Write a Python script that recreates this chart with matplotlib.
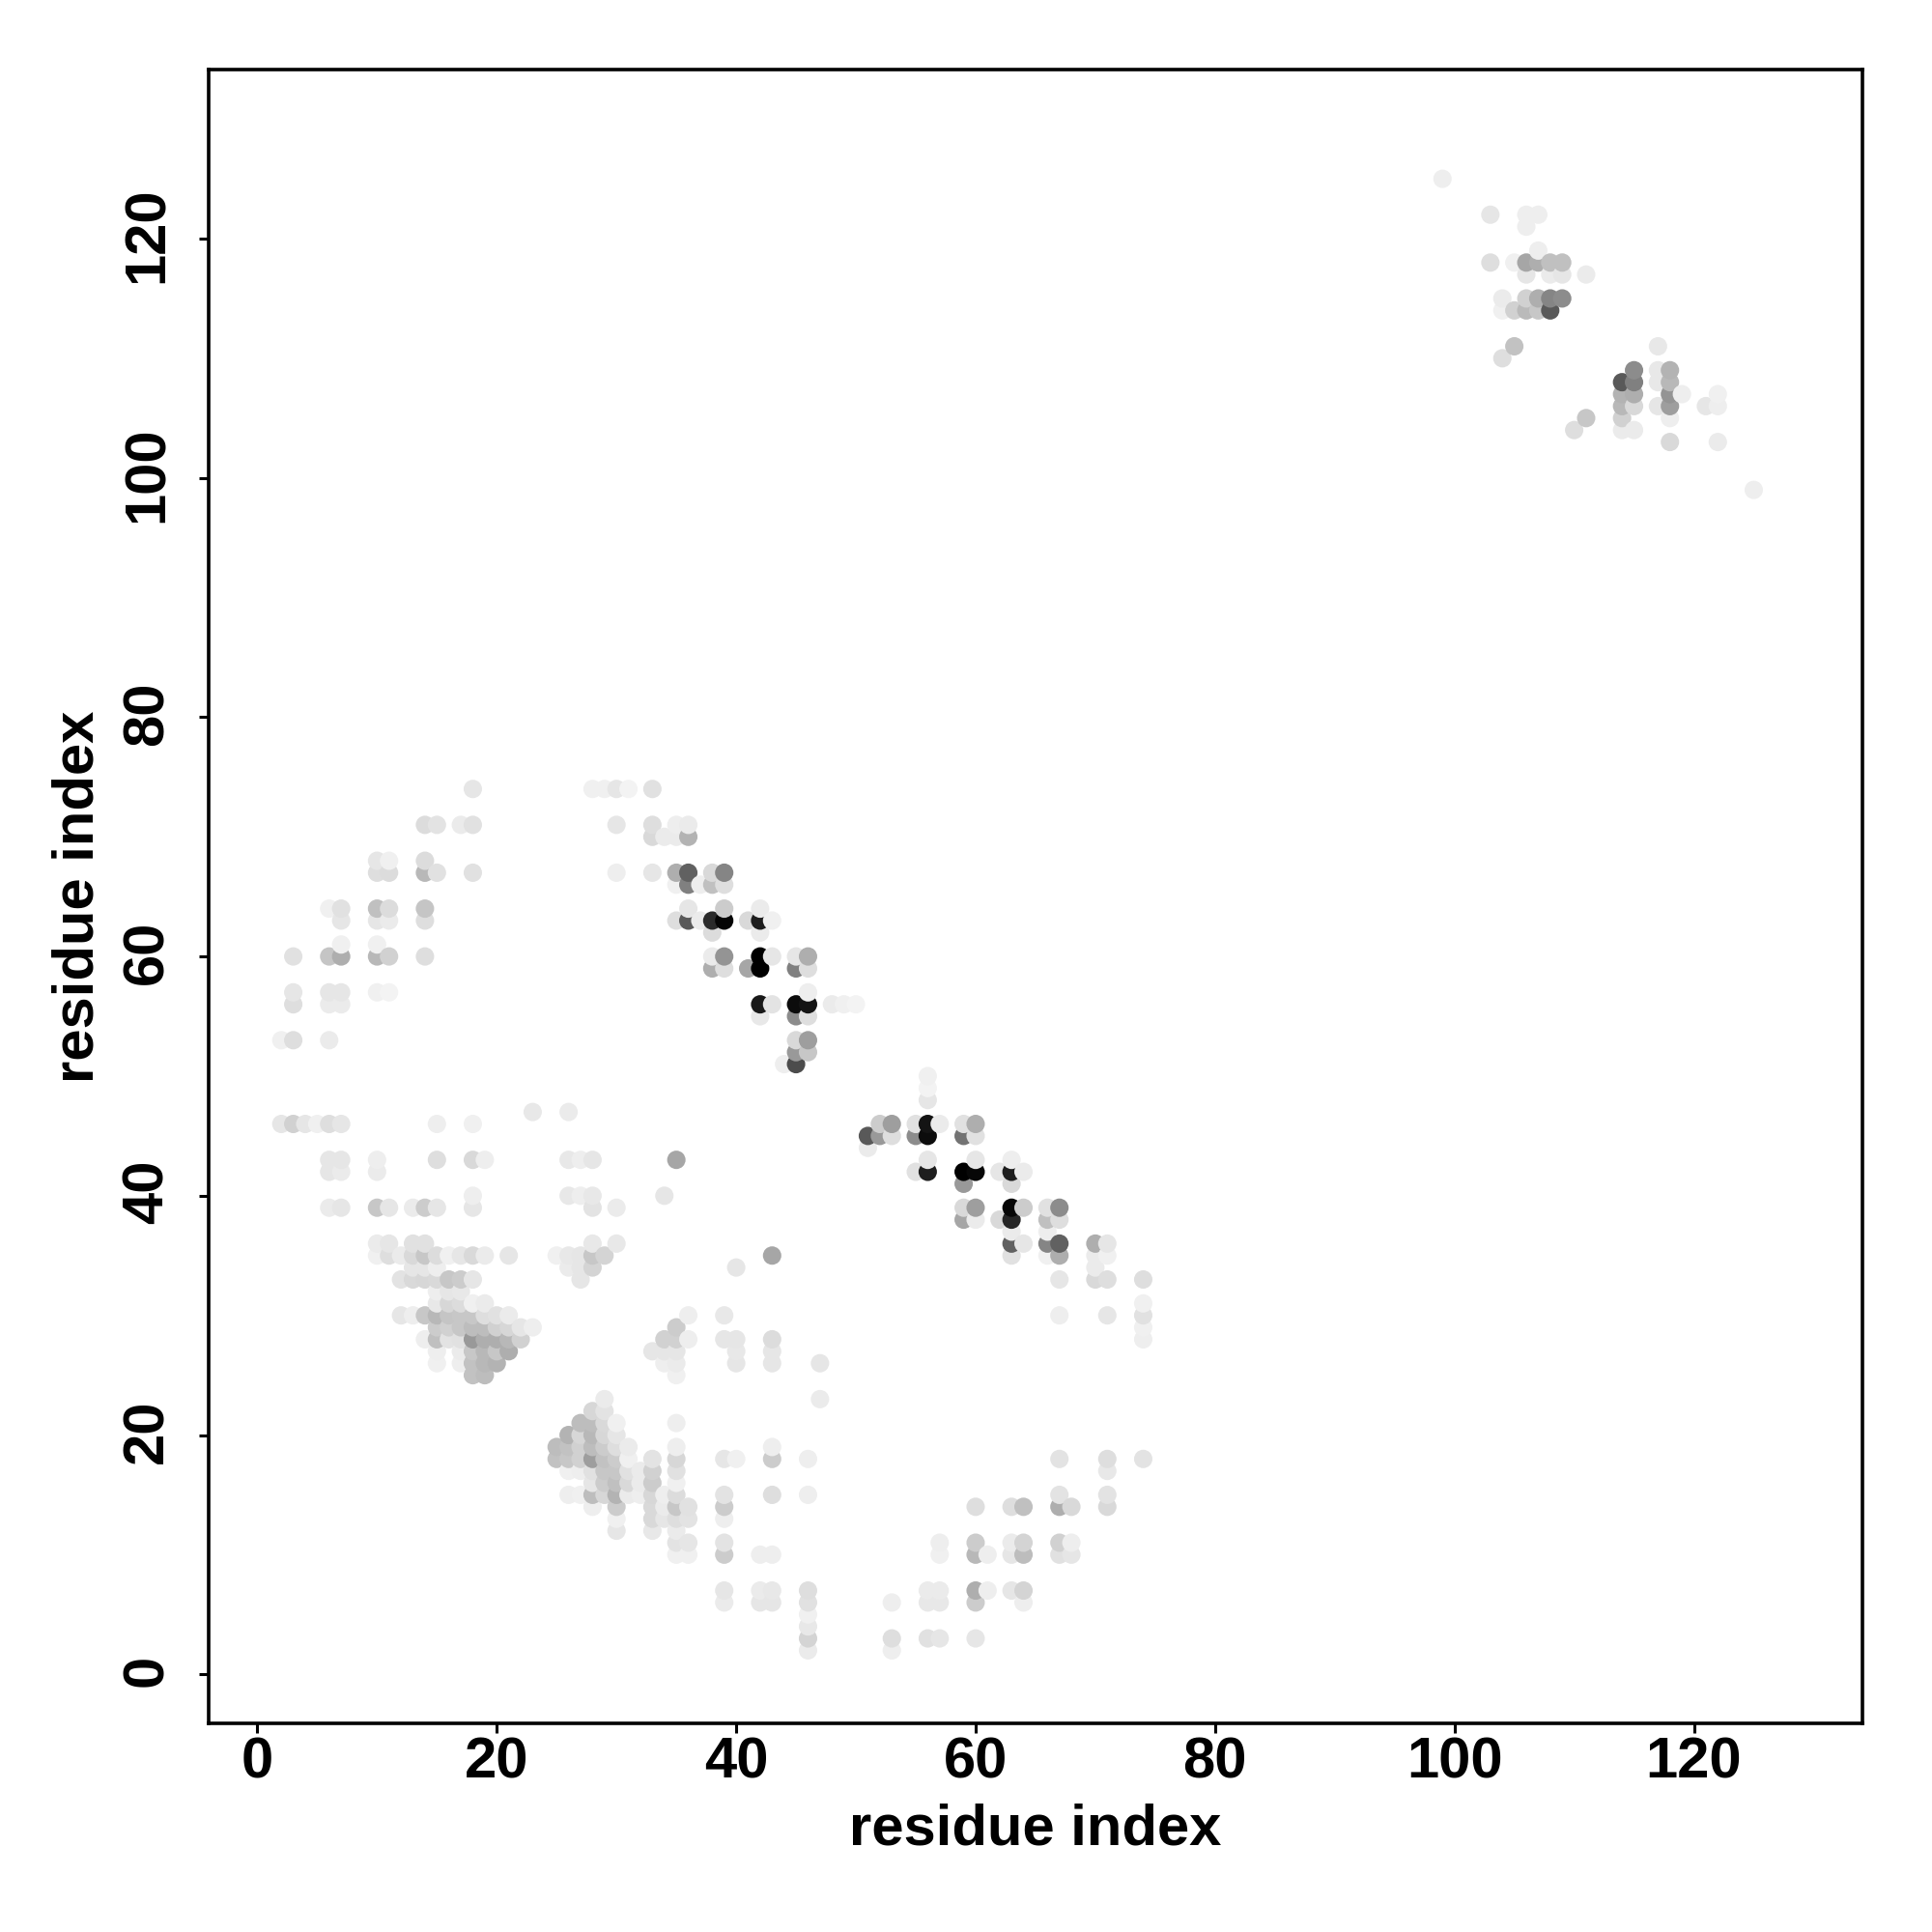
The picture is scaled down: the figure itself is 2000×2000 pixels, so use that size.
import numpy as np
import matplotlib
matplotlib.use("Agg")
import matplotlib.pyplot as plt
from matplotlib.transforms import ScaledTranslation

plt.rcParams['font.family'] = ['Liberation Sans', 'DejaVu Sans']

# residue j of each row, residue i and grey level of each contact in that row
row_j = [125, 122, 121, 119, 118, 117, 115, 114, 111, 110, 109, 108, 107, 106, 105, 104, 103, 99,
         74, 71, 70, 68, 67, 66, 64, 63, 62, 61, 60, 59, 57, 56, 55, 53, 52, 51, 50, 49, 48, 47, 46, 45, 44, 43, 42, 41, 40, 39, 38, 37, 36,
         35, 34, 33, 32, 31, 30, 29, 28, 27, 26, 25, 23, 22, 21, 20, 19, 18, 17, 16, 15, 14, 13, 12, 11, 10, 7, 6, 5, 4, 3, 2]

row_i = [
    [99], [103, 106, 107], [106], [107], [103, 105, 106, 107, 108, 109], [106, 108, 109, 111],
    [104, 106, 107, 108, 109], [104, 105, 106, 107, 108], [105, 117], [104], [115, 117, 118],
    [114, 115, 117, 118], [114, 115, 118, 119, 122], [114, 115, 117, 118, 121, 122], [111, 114, 118],
    [110, 114, 115], [118, 122], [125],
    [18, 28, 29, 30, 31, 33],
    [14, 15, 17, 18, 30, 33, 35, 36],
    [33, 34, 35, 36],
    [10, 11, 14],
    [10, 11, 14, 15, 18, 30, 33, 35, 36, 38, 39],
    [35, 36, 37, 38, 39],
    [6, 7, 10, 11, 14, 36, 39, 42],
    [7, 10, 11, 14, 35, 36, 37, 38, 39, 41, 42, 43],
    [38, 42],
    [7, 10],
    [3, 6, 7, 10, 11, 14, 38, 39, 42, 43, 45, 46],
    [38, 39, 41, 42, 45, 46],
    [3, 6, 7, 10, 11, 46],
    [3, 6, 7, 42, 43, 45, 46, 48, 49, 50],
    [42, 45, 46],
    [2, 3, 6, 45, 46],
    [45, 46],
    [44, 45],
    [56], [56], [56],
    [23, 26],
    [2, 3, 4, 5, 6, 7, 15, 18, 52, 53, 55, 56, 57, 59, 60],
    [51, 52, 53, 55, 56, 59, 60],
    [51],
    [6, 7, 10, 15, 18, 19, 26, 27, 28, 35, 56, 60, 63],
    [6, 7, 10, 55, 56, 59, 60, 62, 63, 64],
    [59, 63],
    [18, 26, 27, 28, 34],
    [6, 7, 10, 11, 13, 14, 15, 18, 28, 30, 59, 60, 63, 64, 66, 67],
    [59, 60, 62, 63, 66, 67],
    [63, 66],
    [10, 11, 13, 14, 28, 30, 63, 64, 66, 67, 70, 71],
    [10, 11, 12, 13, 14, 15, 16, 17, 18, 19, 21, 25, 26, 27, 28, 29, 43, 63, 66, 67, 70, 71],
    [13, 14, 15, 26, 27, 28, 40, 70],
    [12, 13, 14, 15, 16, 17, 18, 27, 67, 70, 71, 74],
    [15, 16, 17],
    [15, 16, 17, 18, 19, 74],
    [12, 13, 14, 15, 16, 17, 18, 19, 20, 21, 36, 39, 67, 71, 74],
    [15, 16, 17, 18, 19, 20, 21, 22, 23, 35, 74],
    [14, 15, 16, 17, 18, 19, 20, 21, 22, 34, 35, 36, 39, 40, 43, 74],
    [15, 17, 18, 19, 20, 21, 33, 34, 35, 40, 43],
    [15, 17, 18, 19, 20, 34, 35, 40, 43, 47],
    [18, 19, 35],
    [29, 47],
    [28, 29],
    [27, 28, 29, 30, 35],
    [26, 27, 28, 29, 30],
    [25, 26, 27, 28, 29, 30, 31, 35, 43],
    [25, 26, 27, 28, 29, 30, 31, 33, 35, 39, 40, 43, 46, 67, 71, 74],
    [26, 27, 28, 29, 30, 31, 32, 33, 35, 71],
    [28, 29, 30, 31, 32, 33, 35],
    [26, 27, 28, 29, 30, 31, 32, 33, 34, 35, 39, 43, 46, 67, 71],
    [28, 30, 33, 34, 35, 36, 39, 60, 63, 64, 67, 68, 71],
    [30, 33, 34, 35, 36, 39],
    [30, 33, 35],
    [35, 36, 39, 57, 60, 63, 64, 67, 68],
    [35, 36, 39, 42, 43, 57, 60, 61, 63, 64, 67, 68],
    [39, 42, 43, 46, 56, 57, 60, 61, 63, 64],
    [39, 42, 43, 46, 53, 56, 57, 60, 64],
    [46], [46],
    [46, 53, 56, 57, 60],
    [46, 53],
]

row_grey = [
    [.93], [.90, .93, .93], [.93], [.93], [.87, .94, .65, .68, .75, .75], [.90, .92, .90, .92],
    [.92, .82, .68, .52, .55], [.94, .82, .73, .78, .35], [.76, .91], [.87], [.55, .91, .70],
    [.35, .50, .91, .72], [.70, .68, .58, .93, .94], [.72, .85, .90, .62, .90, .93], [.78, .82, .93],
    [.87, .92, .92], [.85, .92], [.93],
    [.90, .94, .94, .90, .95, .88],
    [.86, .89, .92, .88, .90, .87, .93, .92],
    [.85, .92, .92, .70],
    [.90, .94, .86],
    [.87, .86, .72, .88, .88, .93, .90, .68, .38, .85, .52],
    [.94, .50, .93, .75, .87],
    [.94, .88, .75, .86, .77, .90, .80, .92],
    [.90, .90, .92, .87, .87, .35, .92, .17, .02, .85, .12, .94],
    [.86, .92],
    [.94, .94],
    [.88, .77, .68, .72, .82, .87, .92, .58, .00, .90, .90, .68],
    [.68, .87, .65, .00, .50, .87],
    [.90, .90, .90, .94, .95, .93],
    [.87, .92, .92, .10, .89, .05, .08, .92, .94, .95],
    [.91, .55, .87],
    [.94, .87, .92, .85, .62],
    [.60, .78],
    [.93, .30],
    [.94], [.95], [.90],
    [.91, .92],
    [.90, .82, .90, .94, .87, .90, .93, .94, .80, .62, .88, .08, .92, .88, .68],
    [.35, .60, .87, .55, .05, .45, .88],
    [.92],
    [.90, .90, .93, .87, .85, .93, .91, .93, .90, .65, .90, .90, .93],
    [.90, .92, .92, .88, .12, .00, .03, .90, .12, .92],
    [.60, .85],
    [.93, .91, .93, .91, .90],
    [.92, .90, .78, .90, .92, .80, .90, .90, .89, .92, .85, .62, .03, .80, .88, .55],
    [.65, .92, .85, .15, .75, .87],
    [.92, .93],
    [.92, .90, .88, .88, .91, .91, .38, .90, .52, .38, .68, .90],
    [.94, .87, .92, .85, .78, .86, .94, .90, .85, .92, .90, .94, .91, .90, .78, .83, .65, .88, .94, .68, .92, .94],
    [.90, .90, .93, .92, .90, .83, .90, .92],
    [.89, .85, .84, .85, .78, .80, .90, .90, .90, .85, .87, .87],
    [.93, .90, .91],
    [.91, .84, .86, .94, .92, .94],
    [.90, .93, .78, .72, .77, .78, .78, .87, .88, .92, .93, .91, .93, .90, .88],
    [.80, .82, .78, .74, .74, .82, .84, .90, .93, .80, .94],
    [.93, .75, .89, .88, .60, .68, .68, .72, .82, .82, .82, .93, .90, .90, .86, .93],
    [.93, .92, .78, .72, .78, .68, .90, .90, .90, .91, .90],
    [.94, .93, .76, .72, .70, .93, .92, .90, .90, .90],
    [.76, .74, .94],
    [.92, .92],
    [.84, .89],
    [.74, .74, .85, .94, .93],
    [.70, .84, .72, .84, .90],
    [.74, .76, .82, .74, .80, .87, .92, .93, .93],
    [.76, .78, .82, .62, .76, .80, .94, .89, .84, .90, .94, .80, .93, .89, .87, .89],
    [.94, .93, .88, .78, .78, .88, .92, .82, .88, .91],
    [.90, .80, .75, .85, .92, .80, .94],
    [.93, .94, .74, .84, .70, .92, .93, .84, .93, .86, .89, .87, .93, .89, .89],
    [.93, .80, .85, .92, .78, .88, .80, .87, .87, .75, .68, .85, .85],
    [.94, .85, .90, .87, .89, .93],
    [.90, .91, .92],
    [.89, .90, .89, .93, .80, .92, .83, .82, .93],
    [.94, .94, .80, .93, .93, .94, .72, .93, .90, .74, .88, .90],
    [.90, .92, .91, .87, .92, .92, .68, .93, .90, .83],
    [.92, .90, .90, .88, .93, .91, .91, .80, .93],
    [.94], [.91],
    [.83, .87, .88, .90, .90],
    [.92, .93],
]

x_ticks = [0, 20, 40, 60, 80, 100, 120]
y_ticks = [0, 20, 40, 60, 80, 100, 120]

xs = np.concatenate([np.asarray(r, float) for r in row_i])
ys = np.concatenate([np.full(len(r), j, float) for r, j in zip(row_i, row_j)])
gs = np.concatenate([np.asarray(r, float) for r in row_grey])
order = np.lexsort((ys, xs))

fig = plt.figure(figsize=(10, 10), dpi=200)
ax = fig.add_axes([215.6 / 2000, 1 - 1784 / 2000, (1928 - 215.6) / 2000, (1784 - 72.4) / 2000])
ax.scatter(xs[order], ys[order], c=gs[order], cmap='gray', vmin=0, vmax=1, s=47, linewidths=0, zorder=3)

ax.set_xlim(-4.1, 134.08)
ax.set_ylim(-4.1, 134.1)
ax.set_xticks(x_ticks)
ax.set_yticks(y_ticks)
for s in ax.spines.values():
    s.set_linewidth(1.3)
ax.tick_params(axis='both', length=3.6, width=1.1, labelsize=21.5)
ax.tick_params(axis='x', pad=1.2)
ax.tick_params(axis='y', pad=9)
for t in ax.get_xticklabels():
    t.set_fontweight('bold')
nudge = ScaledTranslation(0, 1.4 / 72, fig.dpi_scale_trans)
for t in ax.get_yticklabels():
    t.set_fontweight('bold')
    t.set_rotation(90)
    t.set_va('center')
    t.set_transform(t.get_transform() + nudge)
ax.set_xlabel('residue index', fontsize=21.5, fontweight='bold', labelpad=5)
ax.set_ylabel('residue index', fontsize=21.5, fontweight='bold', labelpad=6)

fig.savefig('out.png', dpi=200, facecolor='white')
